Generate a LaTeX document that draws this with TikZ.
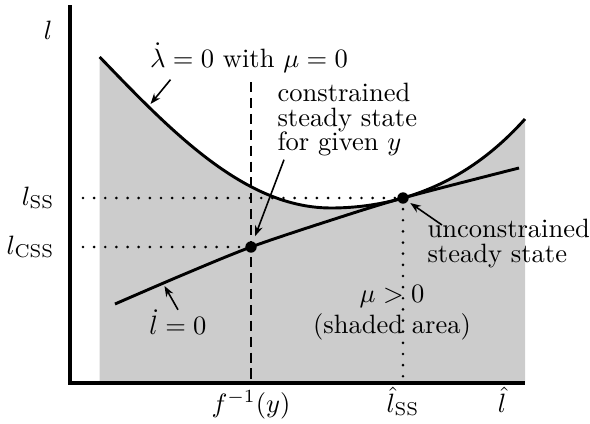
\documentclass[tikz,border=0pt]{standalone}
\usepackage{amsmath}
\usetikzlibrary{arrows.meta, calc}

% upper locus, shared by the shading and the drawn curve
\newcommand{\lambdapath}{plot[domain=99.7:331, samples=50] (\x, {lamleft(\x)}) -- plot[domain=331:525, samples=50] (\x, {lamright(\x)})}

\begin{document}
\begin{tikzpicture}[
    x=0.377pt, y=-0.377pt,
    declare function={
        du(\t)=(\t-331)/100;
        lamleft(\t)=208-34*du(\t)*du(\t)+1.08*du(\t)*du(\t)*du(\t)*du(\t);
        lamright(\t)=208-18.59*du(\t)*du(\t)-1.343*du(\t)*du(\t)*du(\t)*du(\t);
    },
    shade/.style={fill=black!20},
    axis/.style={line width=1.5pt},
    curve/.style={line width=1.1pt},
    guide/.style={line width=1.1pt, line cap=round, dash pattern=on 0pt off 4.2pt},
    cutoff/.style={line width=1.1pt, dash pattern=on 3.8pt off 2.2pt},
    pointer/.style={-{Stealth[length=4pt, width=3pt]}, line width=0.6pt},
    ssdot/.style={circle, fill, inner sep=0pt, minimum size=4.3pt},
    lbl/.style={inner sep=0pt, font=\fontsize{10pt}{9.2pt}\selectfont},
]
    \useasboundingbox (0,0) rectangle (590,424);

    \coordinate (origin) at (70,383);
    \coordinate (ytop) at (70,5);
    \coordinate (xend) at (525,383);
    \coordinate (cssp) at (251,247);
    \coordinate (ussp) at (403,198);
    \coordinate (lssaxis) at (83,198);
    \coordinate (lcssaxis) at (83,247);
    \coordinate (cutofftop) at (251,82);
    \coordinate (fyaxis) at (251,383);
    \coordinate (lssfoot) at (403,383);
    \coordinate (lamtip) at (150.5,104);
    \coordinate (ldottip) at (164.5,286);

    % mu > 0 region
    \fill[shade] \lambdapath -- (525,383) -- (99.7,383) -- cycle;

    \draw[guide] (lssaxis) -- (ussp);
    \draw[guide] (lcssaxis) -- (cssp);
    \draw[guide] (ussp) -- (lssfoot);
    \draw[cutoff] (cutofftop) -- (fyaxis);

    \draw[curve] \lambdapath;
    \draw[curve] plot[smooth] coordinates {(115,304) (180,276) (cssp) (330,220.5) (ussp) (519,168)};

    \draw[axis] (ytop) -- (origin) -- (xend);

    \node[ssdot] (css) at (cssp) {};
    \node[ssdot] (uss) at (ussp) {};

    % labels
    \node[lbl] (ylab) at (48,30) {$l$};
    \node[lbl, anchor=base east] (lsslab) at (55,205) {$l_{\mathrm{SS}}$};
    \node[lbl, anchor=base east] (lcsslab) at (55,254) {$l_{\mathrm{CSS}}$};
    \node[lbl, anchor=base] (fylab) at (251,412) {$f^{-1}(y)$};
    \node[lbl, anchor=base] (lhsslab) at (403,412) {$\hat{l}_{\mathrm{SS}}$};
    \node[lbl, anchor=base] (lhatlab) at (502,412) {$\hat{l}$};

    \node[lbl, anchor=base] (lamlab) at (249,67) {$\dot{\lambda}=0$ with $\mu=0$};
    \node[lbl, anchor=north west, align=left] (cstlab) at (277,83) {constrained\\steady state\\for given $y$};
    \node[lbl, anchor=north west, align=left] (unclab) at (427,219) {unconstrained\\steady state};
    \node[lbl, anchor=north, align=center, font=\fontsize{10pt}{11.5pt}\selectfont] (mulab) at (392,285) {$\mu>0$\\(shaded area)};
    \node[lbl, anchor=base] (ldotlab) at (178,334) {$\dot{l}=0$};

    \draw[pointer] ($(lamlab.south west)+(21,7)$) -- (lamtip);
    \draw[pointer, shorten >=2pt] ($(cstlab.south west)+(7,3)$) -- (css);
    \draw[pointer, shorten >=1pt] ($(unclab.north west)+(15,6)$) -- (uss);
    \draw[pointer] ($(ldotlab.north)+(0,1)$) -- (ldottip);
\end{tikzpicture}
\end{document}
